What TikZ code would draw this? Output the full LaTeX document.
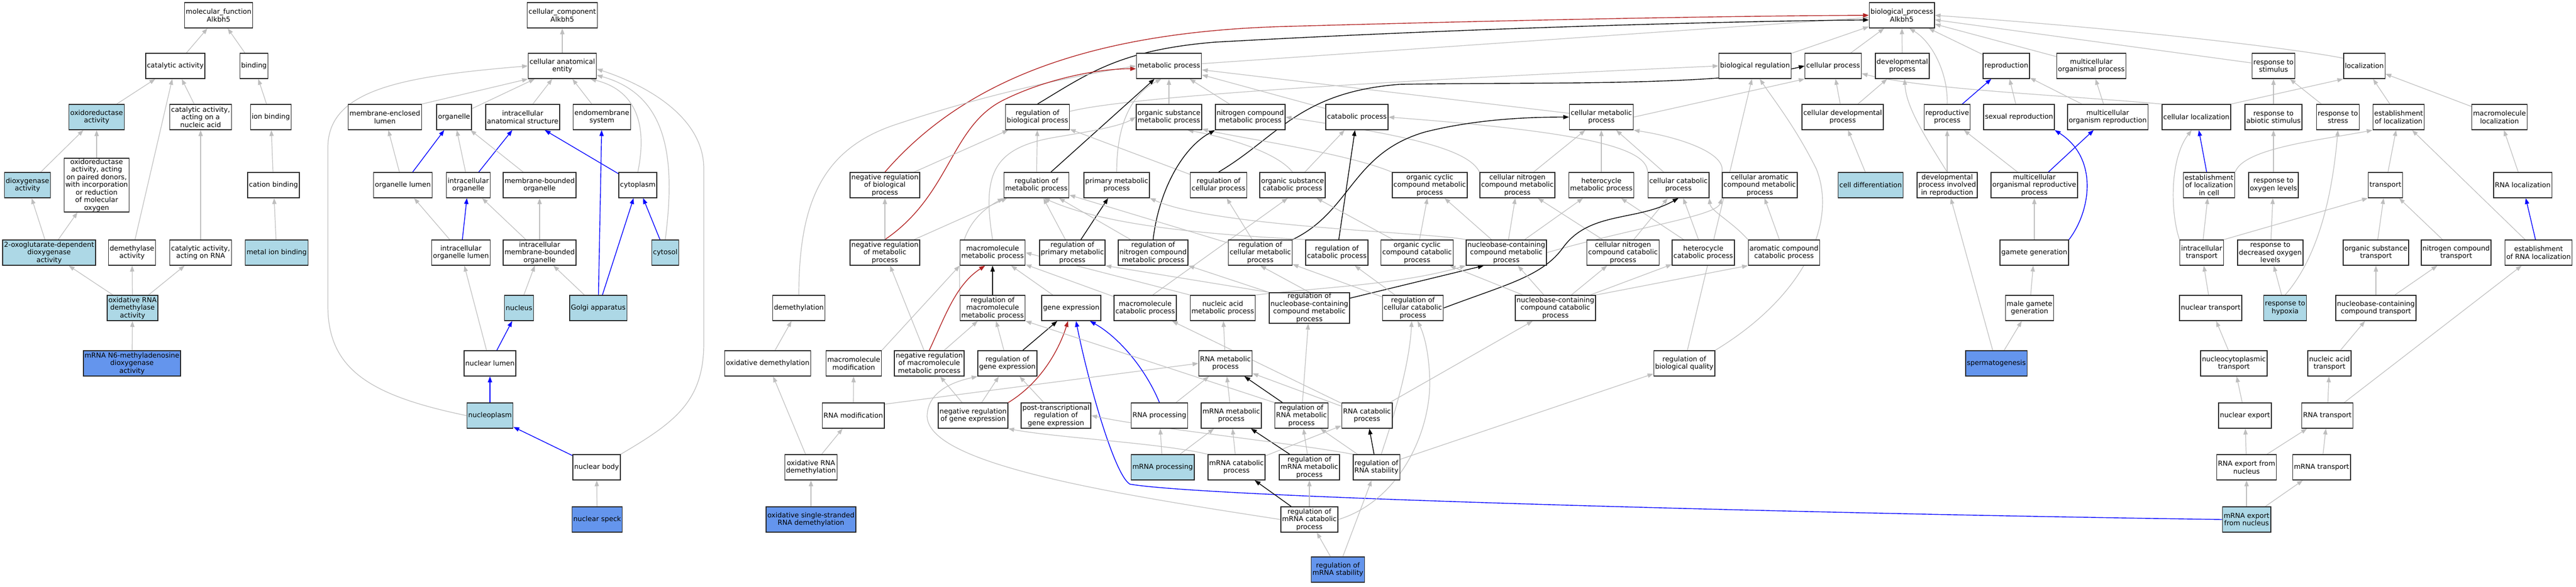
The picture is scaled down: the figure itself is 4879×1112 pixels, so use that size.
\documentclass[tikz,border=0pt]{standalone}
\usepackage{fontspec}
\setmainfont{DejaVu Sans}
\usetikzlibrary{backgrounds}
\usetikzlibrary{arrows.meta}
\definecolor{golight}{HTML}{ADD8E6}
\definecolor{goseed}{HTML}{6495ED}
\definecolor{gogrey}{HTML}{BEBEBE}
\definecolor{goneg}{HTML}{B22222}
\tikzset{term/.style={draw=black!85, line width=1.5pt, fill=white, align=center, inner xsep=2.5pt, inner ysep=1pt, minimum height=48pt, font=\fontsize{13}{14.5}\selectfont}}
\tikzset{hit/.style={term, fill=golight}}
\tikzset{seed/.style={term, fill=goseed}}
\tikzset{isa/.style={draw=gogrey, line width=1.2pt, -{Triangle[length=11pt,width=8pt]}}}
\tikzset{partof/.style={isa, draw=blue, line width=1.4pt}}
\tikzset{reg/.style={isa, draw=black, line width=1.4pt}}
\tikzset{negreg/.style={isa, draw=goneg, line width=1.4pt}}

\begin{document}
\begin{tikzpicture}[x=1pt, y=-1pt]
\useasboundingbox (0,0) rectangle (4879,1112);

% molecular function
\node[term] (mf) at (414,29) {molecular\_function\\Alkbh5};
\node[term] (catact) at (332,125) {catalytic activity};
\node[term] (binding) at (481,125) {binding};
\node[hit] (oxred) at (183,222) {oxidoreductase\\activity};
\node[term] (catnuc) at (380,222) {catalytic activity,\\acting on a\\nucleic acid};
\node[term] (ionbind) at (513,222) {ion binding};
\node[hit] (dioxy) at (52,351) {dioxygenase\\activity};
\node[term] (oxpaired) at (183,351) {oxidoreductase\\activity, acting\\on paired donors,\\with incorporation\\or reduction\\of molecular\\oxygen};
\node[term] (cationbind) at (518,351) {cation binding};
\node[hit] (oxoglu) at (93,479) {2-oxoglutarate-dependent\\dioxygenase\\activity};
\node[term] (demethact) at (250,479) {demethylase\\activity};
\node[term] (catrna) at (380,479) {catalytic activity,\\acting on RNA};
\node[hit] (metalbind) at (524,479) {metal ion binding};
\node[hit] (oxrnademact) at (251,584) {oxidative RNA\\demethylase\\activity};
\node[seed] (mrnan6) at (250,689) {mRNA N6-methyladenosine\\dioxygenase\\activity};

% cellular component
\node[term] (cc) at (1065,29) {cellular\_component\\Alkbh5};
\node[term] (cae) at (1065,125) {cellular anatomical\\entity};
\node[term] (melumen) at (729,222) {membrane-enclosed\\lumen};
\node[term] (organelle) at (860,222) {organelle};
\node[term] (iastruct) at (990,222) {intracellular\\anatomical structure};
\node[term] (endomem) at (1140,222) {endomembrane\\system};
\node[term] (orglumen) at (763,351) {organelle lumen};
\node[term] (intraorg) at (887,351) {intracellular\\organelle};
\node[term] (mborg) at (1022,351) {membrane-bounded\\organelle};
\node[term] (cytoplasm) at (1208,351) {cytoplasm};
\node[term] (iolumen) at (873,479) {intracellular\\organelle lumen};
\node[term] (imborg) at (1022,479) {intracellular\\membrane-bounded\\organelle};
\node[hit] (cytosol) at (1260,479) {cytosol};
\node[hit] (nucleus) at (983,584) {nucleus};
\node[hit] (golgi) at (1133,584) {Golgi apparatus};
\node[term] (nuclumen) at (928,689) {nuclear lumen};
\node[hit] (nucleoplasm) at (928,788) {nucleoplasm};
\node[term] (nucbody) at (1130,886) {nuclear body};
\node[seed] (nucspeck) at (1131,985) {nuclear speck};

% biological process
\node[term] (bp) at (3602,29) {biological\_process\\Alkbh5};
\node[term] (mp) at (2214,125) {metabolic process};
\node[term] (bioreg) at (3324,125) {biological regulation};
\node[term] (cellproc) at (3472,125) {cellular process};
\node[term] (devproc) at (3603,125) {developmental\\process};
\node[term] (repro) at (3800,125) {reproduction};
\node[term] (mcop) at (3961,125) {multicellular\\organismal process};
\node[term] (respstim) at (4306,125) {response to\\stimulus};
\node[term] (local) at (4478,125) {localization};

\node[term] (rbp) at (1965,222) {regulation of\\biological process};
\node[term] (osmp) at (2214,222) {organic substance\\metabolic process};
\node[term] (ncmp) at (2368,222) {nitrogen compound\\metabolic process};
\node[term] (catproc) at (2570,222) {catabolic process};
\node[term] (cmp) at (3033,222) {cellular metabolic\\process};
\node[term] (celldev) at (3490,222) {cellular developmental\\process};
\node[term] (reproproc) at (3688,222) {reproductive\\process};
\node[term] (sexrepro) at (3824,222) {sexual reproduction};
\node[term] (mcorepro) at (3992,222) {multicellular\\organism reproduction};
\node[term] (cellloc) at (4160,222) {cellular localization};
\node[term] (respabio) at (4306,222) {response to\\abiotic stimulus};
\node[term] (respstress) at (4428,222) {response to\\stress};
\node[term] (estloc) at (4543,222) {establishment\\of localization};
\node[term] (macroloc) at (4734,222) {macromolecule\\localization};

\node[term] (nrbp) at (1676,351) {negative regulation\\of biological\\process};
\node[term] (rmp) at (1963,351) {regulation of\\metabolic process};
\node[term] (pmp) at (2115,351) {primary metabolic\\process};
\node[term] (rcp) at (2308,351) {regulation of\\cellular process};
\node[term] (oscp) at (2448,351) {organic substance\\catabolic process};
\node[term] (occmp) at (2708,351) {organic cyclic\\compound metabolic\\process};
\node[term] (cncmp) at (2874,351) {cellular nitrogen\\compound metabolic\\process};
\node[term] (hmp) at (3033,351) {heterocycle\\metabolic process};
\node[term] (ccp) at (3179,351) {cellular catabolic\\process};
\node[term] (camp) at (3333,351) {cellular aromatic\\compound metabolic\\process};
\node[hit] (celldiff) at (3543,351) {cell differentiation};
\node[term] (devrepro) at (3688,351) {developmental\\process involved\\in reproduction};
\node[term] (mcorp) at (3853,351) {multicellular\\organismal reproductive\\process};
\node[term] (estloccell) at (4184,351) {establishment\\of localization\\in cell};
\node[term] (respoxy) at (4306,351) {response to\\oxygen levels};
\node[term] (transport) at (4518,351) {transport};
\node[term] (rnaloc) at (4778,351) {RNA localization};

\node[term] (nrmp) at (1676,479) {negative regulation\\of metabolic\\process};
\node[term] (mmp) at (1880,479) {macromolecule\\metabolic process};
\node[term] (rpmp) at (2031,479) {regulation of\\primary metabolic\\process};
\node[term] (rncmp) at (2184,479) {regulation of\\nitrogen compound\\metabolic process};
\node[term] (rcmp) at (2387,479) {regulation of\\cellular metabolic\\process};
\node[term] (rcatp) at (2532,479) {regulation of\\catabolic process};
\node[term] (occcp) at (2684,479) {organic cyclic\\compound catabolic\\process};
\node[term] (nbcmp) at (2853,479) {nucleobase-containing\\compound metabolic\\process};
\node[term] (cncp) at (3074,479) {cellular nitrogen\\compound catabolic\\process};
\node[term] (hcp) at (3226,479) {heterocycle\\catabolic process};
\node[term] (acp) at (3379,479) {aromatic compound\\catabolic process};
\node[term] (gamgen) at (3853,479) {gamete generation};
\node[term] (intratrans) at (4170,479) {intracellular\\transport};
\node[term] (respdecoxy) at (4300,479) {response to\\decreased oxygen\\levels};
\node[term] (ostrans) at (4500,479) {organic substance\\transport};
\node[term] (nctrans) at (4652,479) {nitrogen compound\\transport};
\node[term] (estrnaloc) at (4808,479) {establishment\\of RNA localization};

\node[term] (demeth) at (1513,584) {demethylation};
\node[term] (rmmp) at (1880,584) {regulation of\\macromolecule\\metabolic process};
\node[term] (geneexp) at (2029,584) {gene expression};
\node[term] (mcp) at (2169,584) {macromolecule\\catabolic process};
\node[term] (nampx) at (2316,584) {nucleic acid\\metabolic process};
\node[term] (rnbcmp) at (2480,584) {regulation of\\nucleobase-containing\\compound metabolic\\process};
\node[term] (rccp) at (2676,584) {regulation of\\cellular catabolic\\process};
\node[term] (nbccp) at (2946,584) {nucleobase-containing\\compound catabolic\\process};
\node[term] (malegam) at (3844,584) {male gamete\\generation};
\node[term] (nuctrans) at (4187,584) {nuclear transport};
\node[hit] (resphyp) at (4328,584) {response to\\hypoxia};
\node[term] (nbctrans) at (4500,584) {nucleobase-containing\\compound transport};

\node[term] (oxdemeth) at (1454,689) {oxidative demethylation};
\node[term] (macromod) at (1617,689) {macromolecule\\modification};
\node[term] (nrmmp) at (1760,689) {negative regulation\\of macromolecule\\metabolic process};
\node[term] (rge) at (1908,689) {regulation of\\gene expression};
\node[term] (rnamp) at (2321,689) {RNA metabolic\\process};
\node[term] (rbq) at (3190,689) {regulation of\\biological quality};
\node[seed] (sperm) at (3781,689) {spermatogenesis};
\node[term] (nctrport) at (4231,689) {nucleocytoplasmic\\transport};
\node[term] (natrans) at (4412,689) {nucleic acid\\transport};

\node[term] (rnamod) at (1616,788) {RNA modification};
\node[term] (nrge) at (1843,788) {negative regulation\\of gene expression};
\node[term] (ptrge) at (2000,788) {post-transcriptional\\regulation of\\gene expression};
\node[term] (rnaproc) at (2196,788) {RNA processing};
\node[term] (mrnamp) at (2332,788) {mRNA metabolic\\process};
\node[term] (rrnamp) at (2465,788) {regulation of\\RNA metabolic\\process};
\node[term] (rnacp) at (2589,788) {RNA catabolic\\process};
\node[term] (nucexport) at (4252,788) {nuclear export};
\node[term] (rnatrans) at (4408,788) {RNA transport};

\node[term] (oxrnademeth) at (1536,886) {oxidative RNA\\demethylation};
\node[hit] (mrnaproc) at (2202,886) {mRNA processing};
\node[term] (mrnacp) at (2342,886) {mRNA catabolic\\process};
\node[term] (rmrnamp) at (2480,886) {regulation of\\mRNA metabolic\\process};
\node[term] (rrnastab) at (2607,886) {regulation of\\RNA stability};
\node[term] (rnaexport) at (4255,886) {RNA export from\\nucleus};
\node[term] (mrnatrans) at (4397,886) {mRNA transport};

\node[seed] (ossrnademeth) at (1536,985) {oxidative single-stranded\\RNA demethylation};
\node[term] (rmrnacp) at (2480,985) {regulation of\\mRNA catabolic\\process};
\node[hit] (mrnaexport) at (4255,985) {mRNA export\\from nucleus};
\node[seed] (rmrnastab) at (2534,1080) {regulation of\\mRNA stability};

\begin{scope}[on background layer]
% molecular function edges
\draw[isa] (catact) -- (mf);
\draw[isa] (binding) -- (mf);
\draw[isa] (oxred) -- (catact);
\draw[isa] (catnuc) -- (catact);
\draw[isa] (demethact) -- (catact);
\draw[isa] (ionbind) -- (binding);
\draw[isa] (dioxy) -- (oxred);
\draw[isa] (oxpaired) -- (oxred);
\draw[isa] (cationbind) -- (ionbind);
\draw[isa] (oxoglu) -- (dioxy);
\draw[isa] (oxoglu) -- (oxpaired);
\draw[isa] (catrna) -- (catnuc);
\draw[isa] (metalbind) -- (cationbind);
\draw[isa] (oxrnademact) -- (oxoglu);
\draw[isa] (oxrnademact) -- (demethact);
\draw[isa] (oxrnademact) -- (catrna);
\draw[isa] (mrnan6) -- (oxrnademact);

% cellular component edges
\draw[isa] (cae) -- (cc);
\draw[isa] (melumen.north east) -- (cae.south west);
\draw[isa] (organelle) -- (cae);
\draw[isa] (iastruct) -- (cae);
\draw[isa] (endomem) -- (cae);
\draw[isa] (cytoplasm.north) .. controls (1228,230) and (1200,170) .. (cae.-25);
\draw[isa] (cytosol.north) .. controls (1280,300) and (1265,180) .. (cae.-15);
\draw[isa] (nucbody.north east) .. controls (1280,800) and (1333,760) .. (1333,650) -- (1333,320) .. controls (1333,220) and (1220,160) .. (cae.-5);
\draw[isa] (nucleoplasm.west) .. controls (700,750) and (621,700) .. (621,580) -- (621,280) .. controls (621,170) and (760,145) .. (cae.west);
\draw[isa] (orglumen) -- (melumen);
\draw[partof] (orglumen) -- (organelle);
\draw[isa] (intraorg) -- (organelle);
\draw[partof] (intraorg) -- (iastruct);
\draw[isa] (mborg) -- (organelle);
\draw[partof] (cytoplasm) -- (iastruct);
\draw[isa] (iolumen) -- (orglumen);
\draw[partof] (iolumen) -- (intraorg);
\draw[isa] (imborg) -- (intraorg);
\draw[isa] (imborg) -- (mborg);
\draw[partof] (cytosol) -- (cytoplasm);
\draw[isa] (nucleus) -- (imborg);
\draw[isa] (golgi) -- (imborg);
\draw[partof] (golgi) -- (endomem);
\draw[partof] (golgi) -- (cytoplasm);
\draw[isa] (nuclumen) -- (iolumen);
\draw[partof] (nuclumen) -- (nucleus);
\draw[partof] (nucleoplasm) -- (nuclumen);
\draw[partof] (nucbody) -- (nucleoplasm);
\draw[isa] (nucspeck) -- (nucbody);

% biological process edges
\draw[isa] (mp) -- (bp);
\draw[isa] (bioreg) -- (bp);
\draw[isa] (cellproc) -- (bp);
\draw[isa] (devproc) -- (bp);
\draw[isa] (repro) -- (bp);
\draw[isa] (mcop) -- (bp);
\draw[isa] (respstim) -- (bp);
\draw[isa] (local.160) .. controls (4380,98) and (4100,60) .. (bp.east);
\draw[isa] (reproproc.north) .. controls (3690,140) and (3660,80) .. (bp.-60);
\draw[negreg] (nrbp.north) .. controls (1820,160) and (2050,60) .. (2440,50) .. controls (2900,37) and (3300,30) .. (bp.west);
\draw[reg] (rbp.north) .. controls (2060,140) and (2120,95) .. (2300,80) .. controls (2800,52) and (3300,40) .. (bp.188);
\draw[isa] (rbp.10) .. controls (2150,180) and (2700,150) .. (bioreg.west);
\draw[isa] (osmp) -- (mp);
\draw[isa] (ncmp) -- (mp);
\draw[isa] (catproc) -- (mp);
\draw[isa] (cmp) -- (mp);
\draw[isa] (cmp.east) -- (cellproc.south west);
\draw[isa] (pmp.north) .. controls (2115,240) and (2140,180) .. (mp.-120);
\draw[isa] (demeth.north) .. controls (1513,380) and (1560,280) .. (1700,235) .. controls (1850,185) and (2000,150) .. (mp.west);
\draw[reg] (rmp) -- (mp);
\draw[negreg] (nrmp.north) .. controls (1800,370) and (1800,240) .. (1900,190) .. controls (1980,150) and (2080,130) .. (mp.185);
\draw[isa] (celldev) -- (cellproc);
\draw[isa] (celldev) -- (devproc);
\draw[isa] (cellloc.north west) .. controls (3900,180) and (3650,170) .. (cellproc.-15);
\draw[isa] (rbq.north east) .. controls (3420,560) and (3480,420) .. (3440,320) .. controls (3400,240) and (3360,190) .. (bioreg.-70);
\draw[reg] (rcp.north) .. controls (2420,260) and (2460,175) .. (2650,160) .. controls (2900,155) and (3250,165) .. (cellproc.west);
\draw[isa] (devrepro.north) .. controls (3640,250) and (3610,200) .. (devproc.-80);
\draw[isa] (devrepro) -- (reproproc);
\draw[partof] (reproproc) -- (repro);
\draw[isa] (sexrepro) -- (repro);
\draw[isa] (mcorepro) -- (repro);
\draw[isa] (mcorepro) -- (mcop);
\draw[isa] (celldiff) -- (celldev);
\draw[isa] (mcorp) -- (reproproc);
\draw[partof] (mcorp) -- (mcorepro);
\draw[isa] (gamgen) -- (mcorp);
\draw[partof] (gamgen.north east) .. controls (3960,400) and (3975,300) .. (sexrepro.south east);
\draw[isa] (malegam) -- (gamgen);
\draw[isa] (sperm) -- (malegam);
\draw[isa] (sperm) -- (devrepro);

% localization and response
\draw[isa] (cellloc.north east) -- (local.south west);
\draw[isa] (respabio) -- (respstim);
\draw[isa] (respstress) -- (respstim);
\draw[isa] (estloc) -- (local);
\draw[isa] (macroloc) -- (local);
\draw[partof] (estloccell) -- (cellloc);
\draw[isa] (estloccell.north east) .. controls (4250,280) and (4400,265) .. (estloc.south west);
\draw[isa] (respoxy) -- (respabio);
\draw[isa] (transport) -- (estloc);
\draw[isa] (rnaloc) -- (macroloc);
\draw[isa] (intratrans.north west) .. controls (4110,400) and (4110,300) .. (cellloc.-110);
\draw[isa] (intratrans) -- (estloccell);
\draw[isa] (intratrans.north east) -- (transport.south west);
\draw[isa] (respdecoxy) -- (respoxy);
\draw[isa] (ostrans) -- (transport);
\draw[isa] (nctrans) -- (transport);
\draw[partof] (estrnaloc) -- (rnaloc);
\draw[isa] (estrnaloc) -- (estloc);
\draw[isa] (nuctrans) -- (intratrans);
\draw[isa] (resphyp) -- (respdecoxy);
\draw[isa] (resphyp.north) .. controls (4380,500) and (4415,400) .. (respstress.south);
\draw[isa] (nbctrans) -- (ostrans);
\draw[isa] (nbctrans) -- (nctrans);
\draw[isa] (nctrport) -- (nuctrans);
\draw[isa] (natrans) -- (nbctrans);
\draw[isa] (nucexport) -- (nctrport);
\draw[isa] (rnatrans) -- (natrans);
\draw[isa] (rnatrans) -- (estrnaloc);
\draw[isa] (rnaexport) -- (nucexport);
\draw[isa] (rnaexport) -- (rnatrans);
\draw[isa] (mrnatrans) -- (rnatrans);
\draw[isa] (mrnaexport) -- (rnaexport);
\draw[isa] (mrnaexport) -- (mrnatrans);
\draw[partof] (mrnaexport.west) .. controls (3500,975) and (2300,945) .. (2140,918) .. controls (2110,900) and (2060,720) .. (geneexp.-70);

% metabolism
\draw[isa] (nrbp) -- (rbp);
\draw[isa] (rmp) -- (rbp);
\draw[isa] (rcp) -- (rbp);
\draw[isa] (oscp.north) .. controls (2420,290) and (2330,262) .. (osmp.-35);
\draw[isa] (oscp) -- (catproc);
\draw[isa] (occmp.north west) .. controls (2550,290) and (2350,262) .. (osmp.-20);
\draw[isa] (cncmp.north west) .. controls (2780,280) and (2650,255) .. (ncmp.east);
\draw[isa] (cncmp) -- (cmp);
\draw[isa] (hmp) -- (cmp);
\draw[isa] (ccp) -- (cmp);
\draw[isa] (ccp.north west) .. controls (3120,280) and (3000,250) .. (catproc.east);
\draw[isa] (camp.north west) .. controls (3270,290) and (3180,260) .. (cmp.south east);
\draw[isa] (nrmp) -- (nrbp);
\draw[isa] (nrmp) -- (rmp);
\draw[isa] (mmp.north) .. controls (1860,330) and (1880,280) .. (2000,260) .. controls (2060,250) and (2120,240) .. (osmp.west);
\draw[isa] (rpmp) -- (rmp);
\draw[reg] (rpmp) -- (pmp);
\draw[isa] (rncmp) -- (rmp);
\draw[reg] (rncmp.north) .. controls (2195,360) and (2240,280) .. (ncmp.south west);
\draw[isa] (rcmp) -- (rmp);
\draw[isa] (rcmp) -- (rcp);
\draw[reg] (rcmp.north east) .. controls (2560,400) and (2560,290) .. (2700,250) .. controls (2800,225) and (2900,222) .. (cmp.west);
\draw[isa] (rcatp.north west) .. controls (2300,445) and (2100,430) .. (rmp.-60);
\draw[reg] (rcatp) -- (catproc);
\draw[isa] (occcp) -- (occmp);
\draw[isa] (occcp) -- (oscp);
\draw[isa] (nbcmp) -- (occmp);
\draw[isa] (nbcmp) -- (cncmp);
\draw[isa] (nbcmp) -- (hmp);
\draw[isa] (nbcmp.east) .. controls (3100,430) and (3250,410) .. (camp.south west);
\draw[isa] (nbcmp.north west) .. controls (2700,440) and (2300,430) .. (pmp.south east);
\draw[isa] (cncp) -- (cncmp);
\draw[isa] (cncp) -- (ccp);
\draw[isa] (hcp) -- (hmp);
\draw[isa] (hcp) -- (ccp);
\draw[isa] (acp) -- (camp);
\draw[isa] (acp.north west) .. controls (3280,420) and (3240,400) .. (ccp.south east);
\draw[isa] (rmmp.north west) .. controls (1820,520) and (1800,430) .. (rmp.south west);
\draw[reg] (rmmp) -- (mmp);
\draw[isa] (geneexp) -- (mmp);
\draw[isa] (mcp) -- (mmp);
\draw[isa] (mcp.60) -- (oscp.-110);
\draw[isa] (nampx.north west) -- (mmp.east);
\draw[isa] (nampx.north east) .. controls (2500,545) and (2650,540) .. (nbcmp.south west);
\draw[isa] (rnbcmp.north west) -- (rpmp.south east);
\draw[isa] (rnbcmp.north west) -- (rncmp.south east);
\draw[isa] (rnbcmp.north) -- (rcmp.south);
\draw[reg] (rnbcmp) -- (nbcmp.-150);
\draw[isa] (rccp) -- (rcatp);
\draw[isa] (rccp) -- (rcmp);
\draw[reg] (rccp.east) .. controls (2850,540) and (2920,525) .. (2960,470) .. controls (3010,400) and (3100,420) .. (ccp.south);
\draw[isa] (nbccp) -- (nbcmp);
\draw[isa] (nbccp) -- (cncp);
\draw[isa] (nbccp) -- (hcp);
\draw[isa] (nbccp.north east) .. controls (3150,535) and (3250,515) .. (acp.south west);
\draw[isa] (nbccp) -- (occcp);
\draw[isa] (oxdemeth) -- (demeth);
\draw[isa] (macromod.north east) -- (mmp.south west);
\draw[isa] (nrmmp) -- (nrmp);
\draw[isa] (nrmmp) -- (rmmp);
\draw[negreg] (nrmmp.north) .. controls (1790,600) and (1810,540) .. (mmp.-120);
\draw[isa] (rge) -- (rmmp);
\draw[reg] (rge) -- (geneexp.-137);
\draw[isa] (rnamp) -- (nampx);
\draw[isa] (rbq) -- (bioreg);
\draw[isa] (rnamod) -- (macromod);
\draw[isa] (rnamod.20) -- (rnamp.west);
\draw[isa] (nrge) -- (rge);
\draw[isa] (nrge) -- (nrmmp);
\draw[negreg] (nrge.north east) .. controls (1980,720) and (2010,650) .. (geneexp.-104);
\draw[isa] (ptrge) -- (rge);
\draw[isa] (rnaproc) -- (rnamp);
\draw[partof] (rnaproc.north) .. controls (2170,700) and (2120,640) .. (geneexp.-35);
\draw[isa] (mrnamp) -- (rnamp);
\draw[reg] (rrnamp) -- (rnamp);
\draw[isa] (rrnamp) -- (rnbcmp);
\draw[isa] (rrnamp.north west) -- (rmmp.south east);
\draw[isa] (rnacp) -- (rnamp);
\draw[isa] (rnacp) -- (mcp);
\draw[isa] (rnacp) -- (nbccp);
\draw[isa] (oxrnademeth) -- (oxdemeth);
\draw[isa] (oxrnademeth) -- (rnamod);
\draw[isa] (mrnaproc) -- (rnaproc);
\draw[isa] (mrnaproc) -- (mrnamp);
\draw[isa] (mrnacp) -- (mrnamp);
\draw[isa] (mrnacp) -- (rnacp);
\draw[isa] (mrnacp.north west) .. controls (2200,840) and (2000,830) .. (nrge.south east);
\draw[reg] (rmrnamp) -- (mrnamp);
\draw[isa] (rmrnamp) -- (rrnamp);
\draw[reg] (rrnastab) -- (rnacp);
\draw[isa] (rrnastab) -- (rrnamp);
\draw[isa] (rrnastab) -- (rbq);
\draw[isa] (rrnastab.70) .. controls (2650,760) and (2670,680) .. (rccp.-95);
\draw[isa] (rrnastab.north west) .. controls (2450,840) and (2200,815) .. (ptrge.east);
\draw[isa] (rmrnacp) -- (rmrnamp);
\draw[reg] (rmrnacp) -- (mrnacp);
\draw[isa] (rmrnacp.east) .. controls (2650,950) and (2710,820) .. (2708,720) .. controls (2706,660) and (2695,630) .. (rccp.-70);
\draw[isa] (rmrnacp.west) .. controls (2100,935) and (1760,880) .. (1756,790) .. controls (1756,745) and (1800,725) .. (rge.south west);
\draw[isa] (ossrnademeth) -- (oxrnademeth);
\draw[isa] (rmrnastab) -- (rmrnacp);
\draw[isa] (rmrnastab) -- (rrnastab);
\end{scope}
\end{tikzpicture}
\end{document}
